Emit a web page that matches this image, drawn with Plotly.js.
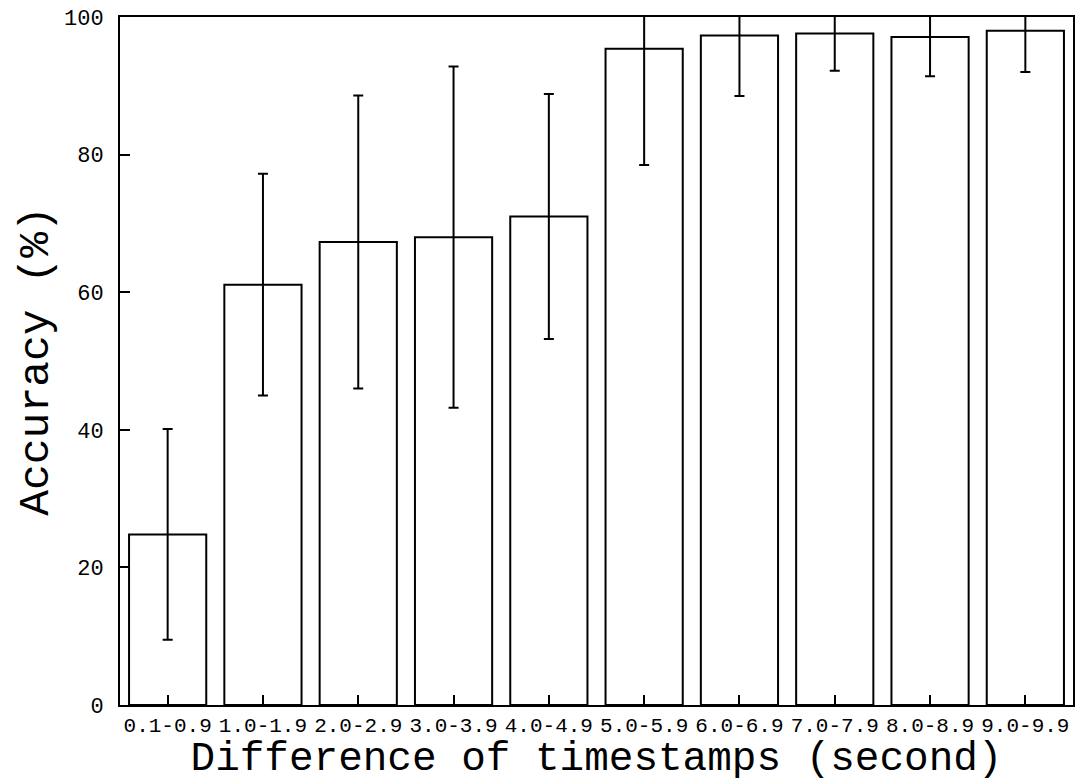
<!DOCTYPE html>
<html>
<head>
<meta charset="utf-8">
<script src="https://cdn.plot.ly/plotly-3.0.1.min.js"></script>
<style>html,body{margin:0;padding:0;background:#fff;}#chart{width:1076px;height:782px;}</style>
</head>
<body>
<div id="chart"></div>
<script>
const categories = ["0.1-0.9","1.0-1.9","2.0-2.9","3.0-3.9","4.0-4.9","5.0-5.9","6.0-6.9","7.0-7.9","8.0-8.9","9.0-9.9"];
const accuracy = [24.8, 61.1, 67.3, 68.0, 71.0, 95.4, 97.3, 97.6, 97.1, 98.0];
const errors = [15.3, 16.1, 21.3, 24.8, 17.8, 16.9, 8.8, 5.4, 5.7, 6.0];
const yTicks = [0, 20, 40, 60, 80, 100];

const FONT = "'Liberation Mono', 'DejaVu Sans Mono', monospace";

const trace = {
  type: 'bar',
  x: categories,
  y: accuracy,
  marker: {color: '#ffffff', line: {color: '#000000', width: 2}},
  error_y: {type: 'data', array: errors, visible: true, color: '#000000', thickness: 2, width: 5},
  hoverinfo: 'x+y'
};

const layout = {
  width: 1076,
  height: 782,
  margin: {l: 120, r: 3, t: 17, b: 77},
  paper_bgcolor: '#ffffff',
  plot_bgcolor: '#ffffff',
  showlegend: false,
  bargap: 0.19,
  font: {family: FONT, color: '#000000'},
  xaxis: {
    type: 'category',
    showline: true, mirror: true, linecolor: '#000000', linewidth: 2,
    ticks: 'inside', ticklen: 10, tickwidth: 1.5, tickcolor: '#000000',
    tickfont: {family: FONT, size: 21, color: '#000000'},
    showgrid: false, zeroline: false,
    title: {text: 'Difference of timestamps (second)', font: {family: FONT, size: 41, color: '#000000'}, standoff: 7}
  },
  yaxis: {
    range: [0, 100],
    tickvals: yTicks,
    ticktext: yTicks.map(String),
    showline: true, mirror: true, linecolor: '#000000', linewidth: 2,
    ticks: 'inside', ticklen: 10, tickwidth: 1.5, tickcolor: '#000000',
    tickfont: {family: FONT, size: 22, color: '#000000'},
    ticklabelstandoff: 10,
    showgrid: false, zeroline: false,
    title: {text: 'Accuracy (%)', font: {family: FONT, size: 43, color: '#000000'}, standoff: 2}
  }
};

Plotly.newPlot('chart', [trace], layout, {displayModeBar: false, responsive: false});
</script>
</body>
</html>
